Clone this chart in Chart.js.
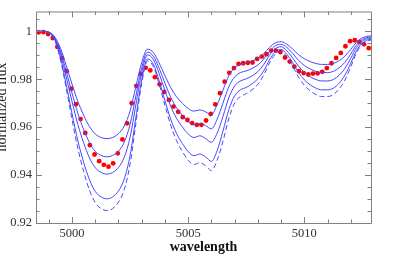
<!DOCTYPE html>
<html>
<head>
<meta charset="utf-8">
<script src="https://cdn.jsdelivr.net/npm/chart.js@4.4.1/dist/chart.umd.min.js"></script>
<style>
  html, body { margin: 0; padding: 0; background: #fff; }
</style>
</head>
<body>
<canvas id="spec" width="407" height="262"></canvas>
<script>
// model spectra, sampled every 0.25 A
const modelWave = [
  4998.50, 4998.75, 4999.00, 4999.25, 4999.50, 4999.75, 5000.00, 5000.25, 5000.50, 5000.75,
  5001.00, 5001.25, 5001.50, 5001.75, 5002.00, 5002.25, 5002.50, 5002.75, 5003.00, 5003.25,
  5003.50, 5003.75, 5004.00, 5004.25, 5004.50, 5004.75, 5005.00, 5005.25, 5005.50, 5005.75,
  5006.00, 5006.25, 5006.50, 5006.75, 5007.00, 5007.25, 5007.50, 5007.75, 5008.00, 5008.25,
  5008.50, 5008.75, 5009.00, 5009.25, 5009.50, 5009.75, 5010.00, 5010.25, 5010.50, 5010.75,
  5011.00, 5011.25, 5011.50, 5011.75, 5012.00, 5012.25, 5012.50, 5012.75, 5013.00
];
const model1 = [
  1.0000, 1.0000, 0.9997, 0.9978, 0.9930, 0.9858, 0.9780, 0.9708, 0.9650, 0.9603,
  0.9572, 0.9557, 0.9552, 0.9557, 0.9573, 0.9605, 0.9668, 0.9770, 0.9870, 0.9926,
  0.9912, 0.9868, 0.9815, 0.9765, 0.9727, 0.9700, 0.9678, 0.9667, 0.9672, 0.9664,
  0.9652, 0.9695, 0.9755, 0.9815, 0.9848, 0.9862, 0.9868, 0.9876, 0.9888, 0.9907,
  0.9933, 0.9952, 0.9957, 0.9946, 0.9926, 0.9903, 0.9886, 0.9874, 0.9866, 0.9862,
  0.9862, 0.9866, 0.9878, 0.9897, 0.9925, 0.9955, 0.9973, 0.9980, 0.9982
];
const model2 = [
  1.0000, 1.0000, 0.9996, 0.9974, 0.9918, 0.9834, 0.9743, 0.9658, 0.9591, 0.9536,
  0.9499, 0.9482, 0.9476, 0.9482, 0.9500, 0.9538, 0.9612, 0.9731, 0.9848, 0.9913,
  0.9897, 0.9846, 0.9784, 0.9725, 0.9681, 0.9649, 0.9623, 0.9610, 0.9616, 0.9607,
  0.9593, 0.9634, 0.9701, 0.9769, 0.9810, 0.9828, 0.9835, 0.9845, 0.9860, 0.9884,
  0.9916, 0.9940, 0.9946, 0.9933, 0.9908, 0.9879, 0.9858, 0.9843, 0.9833, 0.9828,
  0.9828, 0.9833, 0.9848, 0.9871, 0.9906, 0.9944, 0.9966, 0.9975, 0.9978
];
const model3 = [
  1.0000, 1.0000, 0.9996, 0.9971, 0.9907, 0.9811, 0.9707, 0.9612, 0.9535, 0.9472,
  0.9431, 0.9411, 0.9404, 0.9411, 0.9432, 0.9475, 0.9558, 0.9694, 0.9827, 0.9902,
  0.9883, 0.9824, 0.9754, 0.9687, 0.9637, 0.9601, 0.9572, 0.9557, 0.9564, 0.9553,
  0.9537, 0.9576, 0.9645, 0.9723, 0.9772, 0.9793, 0.9802, 0.9814, 0.9832, 0.9861,
  0.9900, 0.9928, 0.9936, 0.9919, 0.9889, 0.9855, 0.9829, 0.9811, 0.9799, 0.9793,
  0.9793, 0.9799, 0.9817, 0.9846, 0.9888, 0.9933, 0.9960, 0.9970, 0.9973
];
const model4 = [
  1.0000, 1.0000, 0.9995, 0.9966, 0.9891, 0.9778, 0.9657, 0.9544, 0.9454, 0.9381,
  0.9332, 0.9309, 0.9301, 0.9309, 0.9334, 0.9384, 0.9482, 0.9641, 0.9797, 0.9885,
  0.9863, 0.9794, 0.9711, 0.9633, 0.9574, 0.9532, 0.9498, 0.9481, 0.9488, 0.9476,
  0.9457, 0.9503, 0.9584, 0.9673, 0.9731, 0.9756, 0.9766, 0.9781, 0.9802, 0.9835,
  0.9881, 0.9915, 0.9924, 0.9904, 0.9869, 0.9828, 0.9798, 0.9777, 0.9763, 0.9756,
  0.9756, 0.9763, 0.9784, 0.9818, 0.9867, 0.9920, 0.9952, 0.9965, 0.9968
];
// dashed one
const model5 = [
  1.0000, 1.0000, 0.9995, 0.9963, 0.9883, 0.9763, 0.9633, 0.9512, 0.9416, 0.9337,
  0.9285, 0.9260, 0.9252, 0.9260, 0.9287, 0.9340, 0.9446, 0.9616, 0.9783, 0.9876,
  0.9853, 0.9780, 0.9691, 0.9608, 0.9544, 0.9499, 0.9462, 0.9444, 0.9452, 0.9439,
  0.9419, 0.9463, 0.9542, 0.9636, 0.9701, 0.9728, 0.9740, 0.9756, 0.9779, 0.9817,
  0.9868, 0.9905, 0.9915, 0.9894, 0.9854, 0.9809, 0.9775, 0.9752, 0.9736, 0.9728,
  0.9728, 0.9736, 0.9760, 0.9797, 0.9852, 0.9911, 0.9947, 0.9961, 0.9965
];

// observed points
const obsWave = [
  4998.57, 4998.77, 4998.97, 4999.17, 4999.37, 4999.57, 4999.77, 4999.97, 5000.17, 5000.37,
  5000.57, 5000.77, 5000.97, 5001.17, 5001.37, 5001.57, 5001.77, 5001.97, 5002.17, 5002.37,
  5002.57, 5002.77, 5002.97, 5003.17, 5003.37, 5003.57, 5003.77, 5003.97, 5004.17, 5004.37,
  5004.57, 5004.77, 5004.97, 5005.17, 5005.37, 5005.57, 5005.77, 5005.97, 5006.17, 5006.37,
  5006.57, 5006.77, 5006.97, 5007.17, 5007.37, 5007.57, 5007.77, 5007.97, 5008.17, 5008.37,
  5008.57, 5008.77, 5008.97, 5009.17, 5009.37, 5009.57, 5009.77, 5009.97, 5010.17, 5010.37,
  5010.57, 5010.77, 5010.97, 5011.17, 5011.37, 5011.57, 5011.77, 5011.97, 5012.17, 5012.37,
  5012.57, 5012.77
];
const obsFlux = [
  0.9996, 0.9997, 0.9989, 0.9972, 0.9935, 0.9889, 0.9834, 0.9761, 0.9696, 0.9634,
  0.9576, 0.9525, 0.9486, 0.9458, 0.9443, 0.9435, 0.9449, 0.9491, 0.9549, 0.9616,
  0.9700, 0.9772, 0.9823, 0.9848, 0.9837, 0.9809, 0.9779, 0.9747, 0.9714, 0.9686,
  0.9664, 0.9642, 0.9630, 0.9617, 0.9610, 0.9610, 0.9628, 0.9655, 0.9695, 0.9742,
  0.9790, 0.9827, 0.9847, 0.9864, 0.9867, 0.9869, 0.9870, 0.9885, 0.9895, 0.9905,
  0.9920, 0.9920, 0.9914, 0.9891, 0.9874, 0.9853, 0.9834, 0.9826, 0.9820, 0.9824,
  0.9825, 0.9831, 0.9847, 0.9867, 0.9889, 0.9910, 0.9938, 0.9959, 0.9963, 0.9956,
  0.9946, 0.9930
];

const xTicks = [5000, 5005, 5010];
const xTickLabels = ["5000", "5005", "5010"];
const xMinor = [4999, 5001, 5002, 5003, 5004, 5006, 5007, 5008, 5009, 5011, 5012];
const yTicks = [0.92, 0.94, 0.96, 0.98, 1];
const yTickLabels = ["0.92", "0.94", "0.96", "0.98", "1"];
const yMinor = [0.925, 0.93, 0.935, 0.945, 0.95, 0.955, 0.965, 0.97, 0.975, 0.985, 0.99, 0.995, 1.005];

const serif = '"Liberation Serif", "DejaVu Serif", serif';
const blue = '#4646ff';

function pts(xs, ys) {
  return xs.map((x, i) => ({ x: x, y: ys[i] }));
}

function curve(ys, dashed) {
  return {
    data: pts(modelWave, ys),
    borderColor: blue,
    borderWidth: 1,
    borderDash: dashed ? [5, 3] : [],
    pointRadius: 0,
    cubicInterpolationMode: 'monotone',
    fill: false,
    order: 1
  };
}

// box round the plot with inward ticks on all four sides, plus the y title
const frame = {
  id: 'frame',
  afterDatasetsDraw(chart) {
    const { ctx, chartArea: a, scales: { x, y } } = chart;
    ctx.save();
    ctx.strokeStyle = '#808080';
    ctx.lineWidth = 1;
    ctx.beginPath();
    ctx.rect(a.left + 0.5, a.top + 0.5, a.right - a.left, a.bottom - a.top);
    const xt = (v, len) => {
      const px = Math.round(x.getPixelForValue(v)) + 0.5;
      ctx.moveTo(px, a.bottom); ctx.lineTo(px, a.bottom - len);
      ctx.moveTo(px, a.top); ctx.lineTo(px, a.top + len);
    };
    const yt = (v, len) => {
      const py = Math.round(y.getPixelForValue(v)) + 0.5;
      ctx.moveTo(a.left, py); ctx.lineTo(a.left + len, py);
      ctx.moveTo(a.right, py); ctx.lineTo(a.right - len, py);
    };
    xTicks.forEach(v => xt(v, 6));
    xMinor.forEach(v => xt(v, 3.5));
    yTicks.forEach(v => yt(v, 6));
    yMinor.forEach(v => yt(v, 3.5));
    ctx.stroke();

    ctx.translate(6, 107);
    ctx.rotate(-Math.PI / 2);
    ctx.font = '14px ' + serif;
    ctx.fillStyle = '#222';
    ctx.textAlign = 'center';
    ctx.textBaseline = 'alphabetic';
    ctx.fillText('normalized flux', 0, 0);
    ctx.restore();
  }
};

new Chart(document.getElementById('spec'), {
  type: 'line',
  data: {
    datasets: [
      {
        data: pts(obsWave, obsFlux),
        showLine: false,
        pointRadius: 2.4,
        pointBackgroundColor: '#ff0000',
        pointBorderWidth: 0,
        order: 2
      },
      curve(model1),
      curve(model2),
      curve(model3),
      curve(model4),
      curve(model5, true)
    ]
  },
  options: {
    responsive: false,
    animation: false,
    devicePixelRatio: 1,
    layout: { padding: { top: 10, right: 36, left: 0, bottom: 0 } },
    plugins: { legend: { display: false }, tooltip: { enabled: false } },
    scales: {
      x: {
        type: 'linear',
        min: 4998.45,
        max: 5012.87,
        afterFit: s => { s.height = 39; },
        afterBuildTicks: s => { s.ticks = xTicks.map(v => ({ value: v })); },
        grid: { display: false, drawTicks: false },
        border: { display: false },
        ticks: {
          padding: 3,
          autoSkip: false,
          maxRotation: 0,
          color: '#333',
          font: { family: serif, size: 12.5 },
          callback: (v, i) => xTickLabels[i]
        },
        title: {
          display: true,
          text: 'wavelength',
          color: '#111',
          font: { family: serif, size: 14, weight: 'bold' },
          padding: { top: 0, bottom: 6 }
        }
      },
      y: {
        type: 'linear',
        min: 0.92,
        max: 1.0083,
        afterFit: s => { s.width = 36; },
        afterBuildTicks: s => { s.ticks = yTicks.map(v => ({ value: v })); },
        grid: { display: false, drawTicks: false },
        border: { display: false },
        ticks: {
          padding: 4,
          autoSkip: false,
          color: '#333',
          font: { family: serif, size: 12.5 },
          callback: (v, i) => yTickLabels[i]
        }
      }
    }
  },
  plugins: [frame]
});
</script>
</body>
</html>
